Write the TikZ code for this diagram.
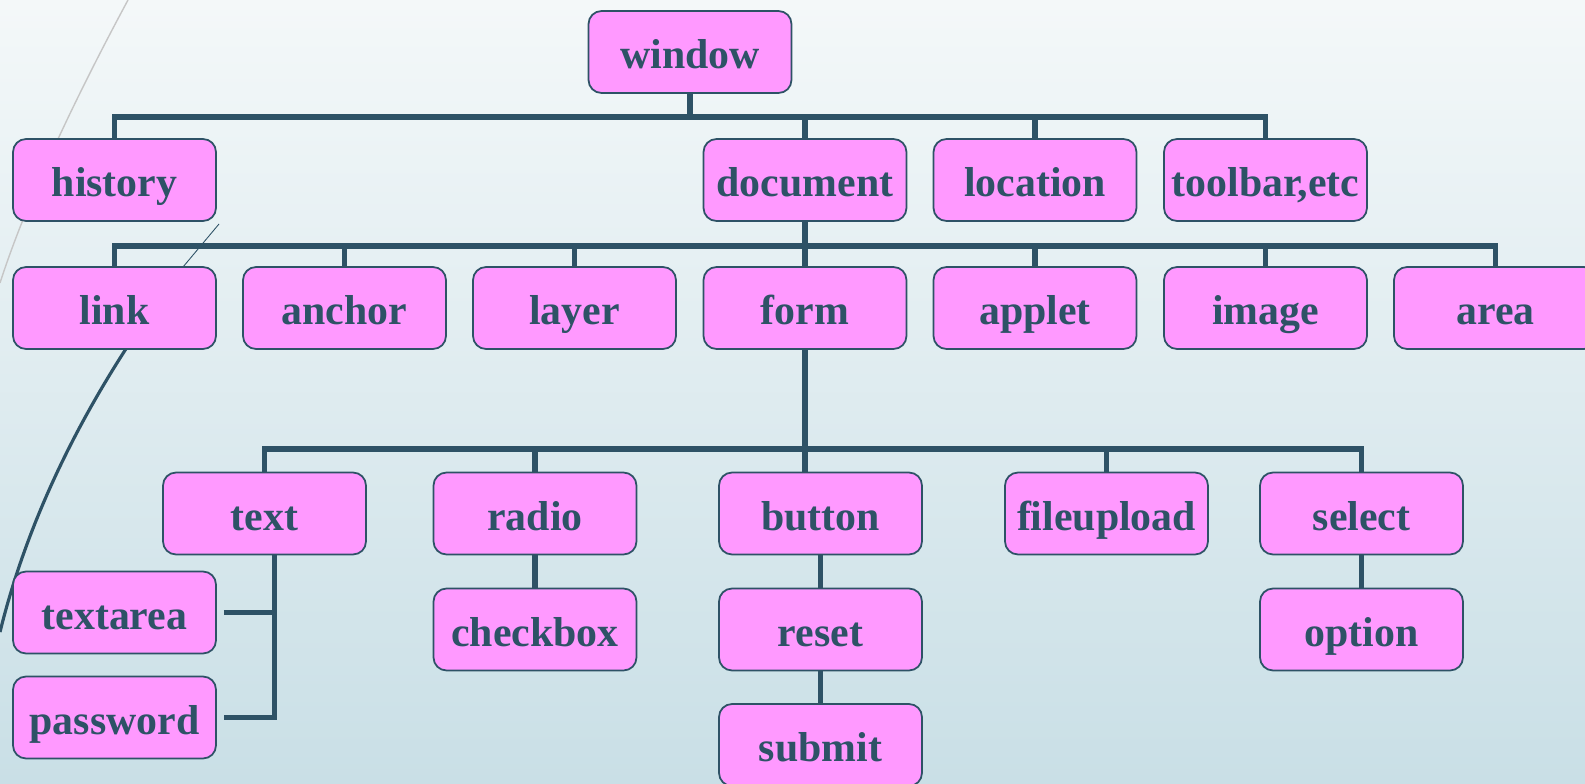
\documentclass[tikz,border=0pt]{standalone}
\usepackage{fontspec}
\setmainfont{Liberation Serif}
\usetikzlibrary{calc}

\definecolor{boxpink}{HTML}{FF99FF}
\definecolor{inkblue}{HTML}{2E5266}
\definecolor{bgtop}{HTML}{F4F8F9}
\definecolor{bgbottom}{HTML}{C9DFE6}

\tikzset{
  elem/.style={draw=inkblue, line width=1pt, fill=boxpink, rounded corners=0.26cm,
    minimum width=4.06cm, minimum height=1.64cm, inner sep=0pt,
    text height=21pt, text depth=2.1pt,
    text=inkblue, font=\fontsize{23.8}{28}\selectfont\bfseries},
  branch/.style={draw=inkblue, line width=3.1pt}
}

\begin{document}
\begin{tikzpicture}[x=0.02cm, y=-0.02cm]
    % --- Background ---
    \shade[top color=bgtop, bottom color=bgbottom] (0,0) rectangle (1585,784);
    \useasboundingbox (0,0) rectangle (1585,784);
    \draw[gray!45, line width=0.8pt] (128,0) .. controls (85,80) and (30,190) .. (0,283);
    \draw[inkblue, line width=0.5pt] (219,224) -- (183,267);
    \draw[inkblue, line width=1.8pt] (183,267) .. controls (125,345) and (40,470) .. (0,632);

    % --- Top level ---
    \node[elem] (window) at (690,52) {window};

    \node[elem] (history)  at (114.5,180) {history};
    \node[elem] (document) at (805,180)   {document};
    \node[elem] (location) at (1035,180)  {location};
    \node[elem] (toolbar)  at (1265.5,180) {toolbar,etc};

    % --- Objects of the document ---
    \node[elem] (link)   at (114.5,308)  {link};
    \node[elem] (anchor) at (344.5,308)  {anchor};
    \node[elem] (layer)  at (574.5,308)  {layer};
    \node[elem] (form)   at (805,308)    {form};
    \node[elem] (applet) at (1035,308)   {applet};
    \node[elem] (image)  at (1265.5,308) {image};
    \node[elem] (area)   at (1495.5,308) {area};

    % --- Form elements ---
    \node[elem] (text)       at (264.5,513.5)  {text};
    \node[elem] (radio)      at (535,513.5)    {radio};
    \node[elem] (button)     at (820.5,513.5)  {button};
    \node[elem] (fileupload) at (1106.5,513.5) {fileupload};
    \node[elem] (select)     at (1361.5,513.5) {select};

    \node[elem] (textarea) at (114.5,612.5)  {textarea};
    \node[elem] (password) at (114.5,717.5)  {password};
    \node[elem] (checkbox) at (535,629.5)    {checkbox};
    \node[elem] (reset)    at (820.5,629.5)  {reset};
    \node[elem] (submit)   at (820.5,745)    {submit};
    \node[elem] (option)   at (1361.5,629.5) {option};

    % --- Buses ---
    \coordinate (bus1) at (690,117);
    \coordinate (bus2) at (805,246);
    \coordinate (bus3) at (805,449);

    \draw[branch] (window.south) -- (bus1);
    \foreach \c in {history,document,location,toolbar}
      \draw[branch] (bus1) -| (\c.north);

    \draw[branch] (document.south) -- (bus2);
    \foreach \c in {link,anchor,layer,form,applet,image,area}
      \draw[branch] (bus2) -| (\c.north);

    % form stem runs straight on into button
    \draw[branch] (form.south) -- (bus3) -- (bus3 |- button.north);
    \foreach \c in {text,radio,fileupload,select}
      \draw[branch] (bus3) -| (\c.north);

    % --- Sub elements ---
    \draw[branch] ([xshift=0.2cm]text.south) |- ([xshift=0.14cm]password.east);
    \draw[branch] ([xshift=0.14cm]textarea.east) -| ([xshift=0.2cm]text.south);
    \draw[branch] (radio) -- (checkbox);
    \draw[branch] (button) -- (reset);
    \draw[branch] (reset) -- (submit);
    \draw[branch] (select) -- (option);
\end{tikzpicture}
\end{document}
